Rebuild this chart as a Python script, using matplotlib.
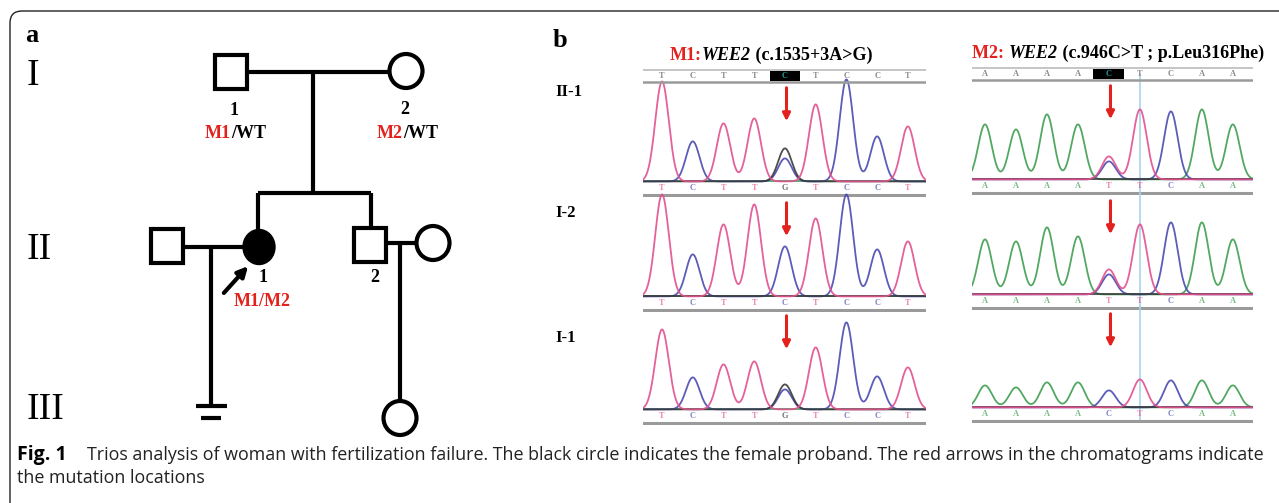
import numpy as np
import matplotlib.pyplot as plt
from matplotlib import font_manager
from matplotlib.patches import Rectangle, Ellipse, PathPatch
from matplotlib.path import Path

# ---- data -------------------------------------------------------------
generations = ["I", "II", "III"]

# chromatogram M1 (WEE2 c.1535+3A>G)
m1_title = ("M1:", "WEE2", " (c.1535+3A>G)")
m1_ref = list("TCTTCTCCT")
m1_calls = [list("TCTTGTCCT"), list("TCTTCTCCT"), list("TCTTGTCCT")]
m1_heights = [[100, 40, 58, 63, 33, 77, 102, 45, 55],
              [102, 42, 72, 92, 50, 78, 102, 47, 55],
              [80, 32, 45, 48, 25, 62, 87, 33, 42]]
m1_second = [("C", 23), None, ("C", 20)]

# chromatogram M2 (WEE2 c.946C>T ; p.Leu316Phe)
m2_title = ("M2: ", "WEE2", " (c.946C>T ; p.Leu316Phe)")
m2_ref = list("AAAACTCAA")
m2_calls = [list("AAAATTCAA"), list("AAAATTCAA"), list("AAAACTCAA")]
m2_heights = [[55, 50, 65, 55, 23, 70, 68, 70, 55],
              [55, 53, 67, 58, 25, 70, 72, 72, 55],
              [22, 20, 25, 25, 17, 28, 27, 27, 22]]
m2_second = [("C", 18), ("C", 20), None]

row_labels = ["II-1", "I-2", "I-1"]
mut_index = 4

caption_bold = "Fig. 1"
caption_1 = ("Trios analysis of woman with fertilization failure. The black circle indicates "
             "the female proband. The red arrows in the chromatograms indicate")
caption_2 = "the mutation locations"

# ---- style ------------------------------------------------------------
W, H = 1279, 503
RED = "#e3221e"
base_colors = {"A": "#3f9f52", "C": "#4a4ab2", "G": "#3a3a3a", "T": "#e2508e"}
SERIF = "Liberation Serif"
names = {f.name for f in font_manager.fontManager.ttflist}
cap_font = "Liberation Sans Narrow" if "Liberation Sans Narrow" in names else "Open Sans"

fig = plt.figure(figsize=(W / 100, H / 100), dpi=100)
ax = fig.add_axes([0, 0, 1, 1])
ax.set_xlim(0, W)
ax.set_ylim(H, 0)
ax.axis("off")

# frame with rounded top-left corner
frame = Path([(W, 11), (22, 11), (10, 11), (10, 23), (10, H)],
             [Path.MOVETO, Path.LINETO, Path.CURVE3, Path.CURVE3, Path.LINETO])
ax.add_patch(PathPatch(frame, fill=False, lw=1.0, color="#222222"))

# ---- panel a: pedigree ------------------------------------------------
lw = 3.0
ax.text(25, 42, "a", family=SERIF, fontweight="bold", fontsize=19)
for g, y in zip(generations, [76, 250, 410]):
    ax.text(27, y, g, family=SERIF, fontsize=27, va="center")

lines = [
    [(247, 72), (390, 72)], [(313, 72), (313, 193)],
    [(258, 193), (371, 193)], [(258, 193), (258, 231)], [(371, 193), (371, 229)],
    [(184, 247), (243, 247)], [(211, 247), (211, 406)],
    [(196, 406), (227, 406)], [(201, 418), (221, 418)],
    [(387, 243), (417, 243)], [(400, 243), (400, 402)],
]
for (x0, y0), (x1, y1) in lines:
    ax.plot([x0, x1], [y0, y1], color="black", lw=lw, solid_capstyle="butt")

for cx, cy in [(231, 72), (167, 246), (370, 245)]:
    ax.add_patch(Rectangle((cx - 16, cy - 17), 32, 34, fc="white", ec="black", lw=lw))
for cx, cy in [(406, 71), (433, 243), (400, 418)]:
    ax.add_patch(Ellipse((cx, cy), 33, 34, fc="white", ec="black", lw=lw))
ax.add_patch(Ellipse((259, 247), 32, 35, fc="black", ec="black", lw=1))

ax.annotate("", xy=(250, 264), xytext=(222, 295),
            arrowprops=dict(arrowstyle="-|>", color="black", lw=3, mutation_scale=15))

lab = dict(family=SERIF, fontweight="bold", fontsize=13, va="center")
ax.text(234, 110, "1", ha="center", **lab)
ax.text(405, 109, "2", ha="center", **lab)
ax.text(263, 278, "1", ha="center", **lab)
ax.text(375, 278, "2", ha="center", **lab)
ax.text(231, 134, "M1", ha="right", color=RED, **lab)
ax.text(231, 134, "/WT", ha="left", color="black", **lab)
ax.text(403, 133, "M2", ha="right", color=RED, **lab)
ax.text(403, 133, "/WT", ha="left", color="black", **lab)
ax.text(262, 302, "M1/M2", ha="center", color=RED, **lab)

# ---- panel b: chromatograms ------------------------------------------
ax.text(553, 47, "b", family=SERIF, fontweight="bold", fontsize=19)
for lbl, y in zip(row_labels, [92, 213, 338]):
    ax.text(555, y, lbl, family=SERIF, fontweight="bold", fontsize=12, va="center")


def title(parts, xc, y):
    t = dict(family=SERIF, fontweight="bold", fontsize=13, va="center")
    r = fig.canvas.get_renderer()
    txts = [ax.text(0, y, parts[0], color=RED, **t),
            ax.text(0, y, parts[1], style="italic", **t),
            ax.text(0, y, parts[2], **t)]
    widths = [tx.get_window_extent(r).width for tx in txts]
    x = xc - sum(widths) / 2
    for tx, w in zip(txts, widths):
        tx.set_x(x)
        x += w


title(m1_title, 771, 55)
title(m2_title, 1118, 53)


def chromatogram(x0, x1, baselines, xlim, ref, calls, heights, second, blue_line):
    xs = np.linspace(xlim[0], xlim[1], 600)
    sig = 0.22
    for r, base in enumerate(baselines):
        a = fig.add_axes([x0 / W, 1 - (base + 15) / H, (x1 - x0) / W, 130 / H])
        a.set_xlim(*xlim)
        a.set_ylim(-15, 115)
        a.axis("off")
        a.patch.set_alpha(0)
        peaks = [(b, i, h) for i, (b, h) in enumerate(zip(calls[r], heights[r]))]
        if second[r]:
            peaks.append((second[r][0], mut_index, second[r][1]))
        for b, col in base_colors.items():
            y = np.zeros_like(xs) + 0.6
            for pb, i, h in peaks:
                if pb == b:
                    y += h * np.exp(-0.5 * ((xs - i) / sig) ** 2)
            a.plot(xs, y, color=col, lw=1.3, alpha=0.9)
        # base calls and separator bar
        for i, b in enumerate(calls[r]):
            a.text(i, -6, b, color=base_colors[b], fontsize=6, family=SERIF,
                   fontweight="bold", ha="center", va="center", alpha=0.7)
        a.plot(xlim, [-13, -13], color="#9a9a9a", lw=2.2)
        if r == 0:
            a.plot(xlim, [100, 100], color="#9a9a9a", lw=1.8)
            a.plot(xlim, [112, 112], color="#bbbbbb", lw=1.2)
            a.add_patch(Rectangle((mut_index - 0.5, 101), 1, 10, fc="black", ec="none"))
            for i, b in enumerate(ref):
                a.text(i, 106, b, color="#1f9a9a" if i == mut_index else "#8a8a8a",
                       fontsize=6, family=SERIF, fontweight="bold", ha="center", va="center")
        if blue_line:
            a.plot([5, 5], [-13, 106 if r == 0 else 102], color="#a8d4ec", lw=1.2, zorder=0)
        a.annotate("", xy=(mut_index + 0.05, 58), xytext=(mut_index + 0.05, 97),
                   arrowprops=dict(arrowstyle="-|>", color=RED, lw=2.2, mutation_scale=11))


chromatogram(643, 926, [182, 297, 410], (-0.62, 8.59), m1_ref, m1_calls, m1_heights, m1_second, False)
chromatogram(972, 1253, [180, 295, 408], (-0.42, 8.65), m2_ref, m2_calls, m2_heights, m2_second, True)

# ---- caption ----------------------------------------------------------
ax.text(17, 460, caption_bold, family="Open Sans", fontweight="bold", fontsize=14, va="baseline")
c1 = ax.text(87, 460, caption_1, family=cap_font, fontsize=14, va="baseline", color="#222222")
c2 = ax.text(17, 483, caption_2, family=cap_font, fontsize=14, va="baseline", color="#222222")
rend = fig.canvas.get_renderer()
fs = 14 * 1188 / c1.get_window_extent(rend).width
c1.set_fontsize(fs)
c2.set_fontsize(fs)

fig.savefig("out.png", dpi=100)
